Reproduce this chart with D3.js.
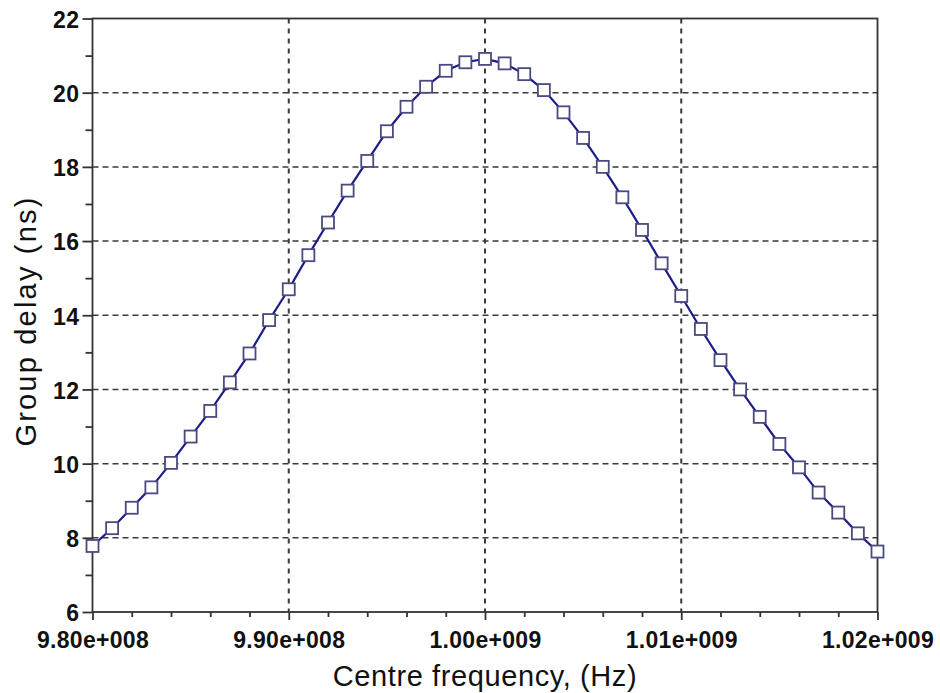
<!DOCTYPE html>
<html><head><meta charset="utf-8">
<script src="https://cdn.jsdelivr.net/npm/d3@7"></script>
<style>body{margin:0;background:#fff}svg{display:block}</style>
</head><body><svg id="c" width="940" height="693"></svg>
<script>
const freqStart = 9.80e8, freqStep = 1e6;
const delayNs = [7.78,8.26,8.81,9.36,10.02,10.73,11.42,12.19,12.97,13.87,14.70,15.62,16.50,17.36,18.16,18.96,19.62,20.16,20.59,20.82,20.91,20.79,20.50,20.07,19.47,18.78,18.00,17.18,16.30,15.40,14.52,13.63,12.79,12.00,11.26,10.53,9.90,9.22,8.68,8.12,7.63];
const xTickVals = [9.80e8, 9.90e8, 1.00e9, 1.01e9, 1.02e9];
const xTickLabels = ["9.80e+008","9.90e+008","1.00e+009","1.01e+009","1.02e+009"];
const yTickVals = [6,8,10,12,14,16,18,20,22];
const xTitle = "Centre frequency, (Hz)";
const yTitle = "Group delay (ns)";

const data = delayNs.map((v,i)=>({f: freqStart + i*freqStep, v}));
const svg = d3.select("#c");
const L=92.5, R=877.5, T=18.5, B=612;
const x = d3.scaleLinear().domain([9.80e8,1.02e9]).range([L,R]);
const y = d3.scaleLinear().domain([6,22]).range([B,T]);
const font = "'Liberation Sans', Arial, sans-serif";

// grid
const g = svg.append("g");
g.selectAll("line.hg").data(yTickVals.filter(v=>v>6&&v<22)).join("line")
  .attr("x1",L).attr("x2",R).attr("y1",d=>y(d)).attr("y2",d=>y(d))
  .attr("stroke","#3a3a3a").attr("stroke-width",1.5).attr("stroke-dasharray","6,4");
g.selectAll("line.vg").data(xTickVals.slice(1,-1)).join("line")
  .attr("x1",d=>x(d)).attr("x2",d=>x(d)).attr("y1",T).attr("y2",B)
  .attr("stroke","#3a3a3a").attr("stroke-width",2).attr("stroke-dasharray","5,5");

// frame
svg.append("rect").attr("x",L).attr("y",T).attr("width",R-L).attr("height",B-T)
  .attr("fill","none").attr("stroke","#333").attr("stroke-width",1.8);

// y axis
const yAxis = d3.axisLeft(y).tickValues(yTickVals).tickSize(10).tickFormat(d3.format("d"));
const ya = svg.append("g").attr("transform",`translate(${L},0)`).call(yAxis);
ya.select(".domain").remove();
ya.selectAll(".tick line").attr("stroke","#333").attr("stroke-width",1.8);
ya.selectAll(".tick text").attr("font-family",font).attr("font-size",23).attr("font-weight","bold")
  .attr("fill","#111").attr("x",-13).attr("dy","0.38em").attr("letter-spacing","0.5px");
const yMinor = d3.axisLeft(y).tickValues(d3.range(7,22,2)).tickSize(7).tickFormat("");
const ym = svg.append("g").attr("transform",`translate(${L},0)`).call(yMinor);
ym.select(".domain").remove();
ym.selectAll(".tick line").attr("stroke","#333").attr("stroke-width",1.8);

// x axis
const xAxis = d3.axisBottom(x).tickValues(xTickVals).tickSize(8).tickFormat((d,i)=>xTickLabels[i]);
const xa = svg.append("g").attr("transform",`translate(0,${B})`).call(xAxis);
xa.select(".domain").remove();
xa.selectAll(".tick line").attr("stroke","#333").attr("stroke-width",1.8);
xa.selectAll(".tick text").attr("font-family",font).attr("font-size",23).attr("font-weight","bold")
  .attr("fill","#111").attr("y",36).attr("dy","0").attr("letter-spacing","0.3px");
const minorX = d3.range(0,21).map(i=>9.80e8+i*2e6).filter(v=>!xTickVals.some(t=>Math.abs(t-v)<1));
const xMinor = d3.axisBottom(x).tickValues(minorX).tickSize(5).tickFormat("");
const xm = svg.append("g").attr("transform",`translate(0,${B})`).call(xMinor);
xm.select(".domain").remove();
xm.selectAll(".tick line").attr("stroke","#333").attr("stroke-width",1.8);

// line
svg.append("path").datum(data)
  .attr("d", d3.line().x(d=>x(d.f)).y(d=>y(d.v)))
  .attr("fill","none").attr("stroke","#1c1c8a").attr("stroke-width",2.2);
// markers
const s = 12;
svg.selectAll("rect.m").data(data).join("rect").attr("class","m")
  .attr("x",d=>x(d.f)-s/2).attr("y",d=>y(d.v)-s/2).attr("width",s).attr("height",s)
  .attr("fill","#fff").attr("stroke","#4a4a80").attr("stroke-width",1.8);

// titles
svg.append("text").attr("x",485).attr("y",686).attr("text-anchor","middle")
  .attr("font-family",font).attr("font-size",29).attr("letter-spacing","0.6px").attr("fill","#111").text(xTitle);
svg.append("text").attr("transform",`translate(36,321) rotate(-90)`).attr("text-anchor","middle")
  .attr("font-family",font).attr("font-size",29).attr("letter-spacing","2.2px").attr("fill","#111").text(yTitle);
</script></body></html>
